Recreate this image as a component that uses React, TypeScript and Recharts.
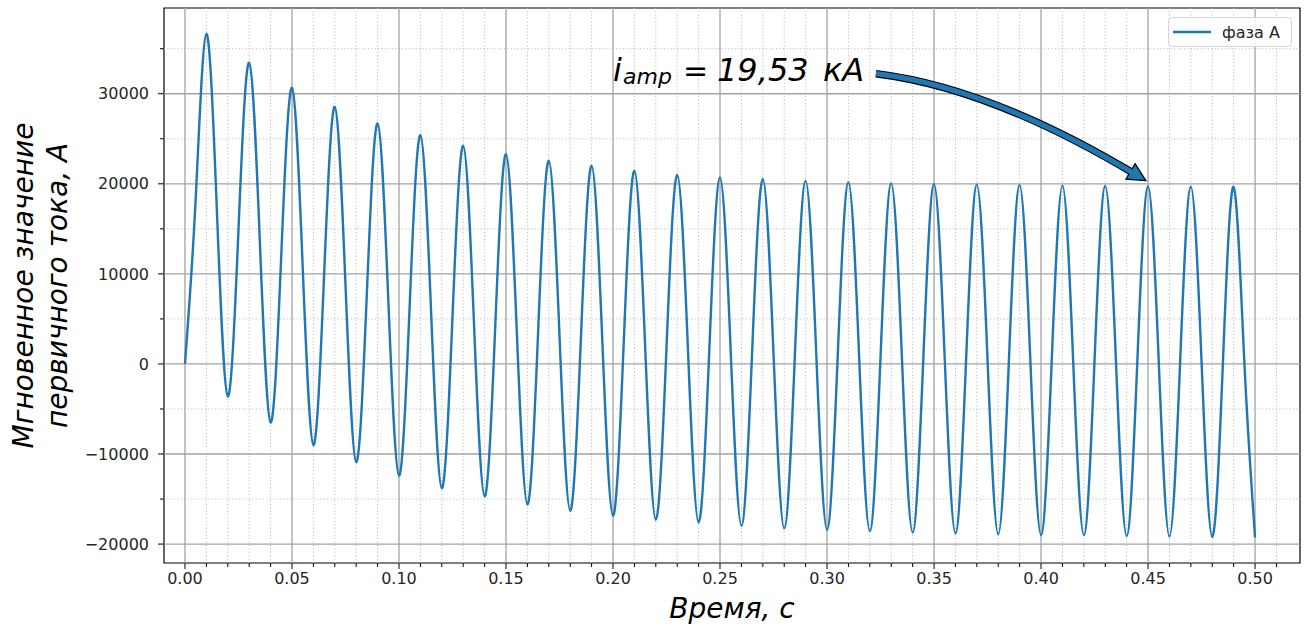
import { LineChart, Line, XAxis, YAxis, ReferenceLine, ReferenceDot, ReferenceArea, Legend, Label } from 'recharts';

// time, s
const TIME = [
  0, 0.005, 0.01, 0.015, 0.02, 0.025, 0.03, 0.035, 0.04, 0.045,
  0.05, 0.055, 0.06, 0.065, 0.07, 0.075, 0.08, 0.085, 0.09, 0.095,
  0.1, 0.105, 0.11, 0.115, 0.12, 0.125, 0.13, 0.135, 0.14, 0.145,
  0.15, 0.155, 0.16, 0.165, 0.17, 0.175, 0.18, 0.185, 0.19, 0.195,
  0.2, 0.205, 0.21, 0.215, 0.22, 0.225, 0.23, 0.235, 0.24, 0.245,
  0.25, 0.255, 0.26, 0.265, 0.27, 0.275, 0.28, 0.285, 0.29, 0.295,
  0.3, 0.305, 0.31, 0.315, 0.32, 0.325, 0.33, 0.335, 0.34, 0.345,
  0.35, 0.355, 0.36, 0.365, 0.37, 0.375, 0.38, 0.385, 0.39, 0.395,
  0.4, 0.405, 0.41, 0.415, 0.42, 0.425, 0.43, 0.435, 0.44, 0.445,
  0.45, 0.455, 0.46, 0.465, 0.47, 0.475, 0.48, 0.485, 0.49, 0.495,
  0.5,
];

// instantaneous primary current, A (phase A)
const CURRENT = [
  0, 18300, 36650, 16500, -3600, 14900, 33450, 13500, -6500, 12100,
  30650, 10800, -9000, 9800, 28550, 8800, -10900, 7900, 26700, 7150,
  -12400, 6500, 25400, 5800, -13800, 5200, 24220, 4750, -14700, 4300,
  23300, 3850, -15600, 3500, 22560, 3150, -16300, 2850, 22000, 2600,
  -16850, 2300, 21450, 2050, -17300, 1850, 21000, 1700, -17600, 1550,
  20700, 1400, -17950, 1300, 20550, 1150, -18250, 1050, 20330, 950,
  -18400, 900, 20180, 800, -18550, 750, 20050, 680, -18700, 630,
  19950, 570, -18800, 540, 19900, 500, -18900, 480, 19850, 430,
  -19000, 400, 19800, 400, -19000, 370, 19750, 330, -19100, 300,
  19700, 270, -19150, 260, 19680, 240, -19200, 230, 19650, 200,
  -19250,
];

const X_MAJOR = [0, 0.05, 0.1, 0.15, 0.2, 0.25, 0.3, 0.35, 0.4, 0.45, 0.5];
const X_MINOR = [
  0.01, 0.02, 0.03, 0.04, 0.06, 0.07, 0.08, 0.09, 0.11, 0.12, 0.13, 0.14,
  0.16, 0.17, 0.18, 0.19, 0.21, 0.22, 0.23, 0.24, 0.26, 0.27, 0.28, 0.29,
  0.31, 0.32, 0.33, 0.34, 0.36, 0.37, 0.38, 0.39, 0.41, 0.42, 0.43, 0.44,
  0.46, 0.47, 0.48, 0.49, 0.51,
];
const Y_MAJOR = [-20000, -10000, 0, 10000, 20000, 30000];
const Y_MINOR = [-15000, -5000, 5000, 15000, 25000, 35000];

const SERIES_NAME = 'фаза A';
const X_TITLE = 'Время, с';
const Y_TITLE = ['Мгновенное значение', 'первичного тока, А'];
const ANNOT_SUB = 'amp';
const ANNOT_VALUE = '19,53';
const ANNOT_UNIT = 'кА';
const ANNOT_TEXT_AT = { x: 0.2, y: 31370 };
const ANNOT_TIP_AT = { x: 0.449, y: 20350 };

const X_DOMAIN = [-0.0098, 0.521];
const Y_DOMAIN = [-22100, 39520];

const BLUE = '#1f77b4';
const INK = '#262626';

const data = TIME.map((t, k) => ({ t, ia: CURRENT[k] }));

const fmtY = (v: number) => String(v).replace('-', '\u2212');

const MinorTickX = (p: any) => (
  <line x1={p.cx} y1={p.cy} x2={p.cx} y2={p.cy + 4} stroke="#000" strokeWidth={1} />
);
const MinorTickY = (p: any) => (
  <line x1={p.cx} y1={p.cy} x2={p.cx - 4} y2={p.cy} stroke="#000" strokeWidth={1} />
);

const AnnotText = (p: any) => (
  <text x={p.cx} y={p.cy} fontSize={32} fontStyle="italic" fill="#000">
    <tspan>i</tspan>
    <tspan x={p.cx + 10} dy={3} fontSize={22}>{ANNOT_SUB}</tspan>
    <tspan x={p.cx + 70} dy={-3} fontStyle="normal" fontSize={30}>=</tspan>
    <tspan x={p.cx + 104}>{ANNOT_VALUE}</tspan>
    <tspan x={p.cx + 210}>{ANNOT_UNIT}</tspan>
  </text>
);

const Arrow = (p: any) => {
  const tx = p.cx;
  const ty = p.cy;
  const sx = tx - 270;
  const sy = ty - 107;
  const qx = tx - 155;
  const qy = ty - 93;
  const len = Math.hypot(tx - qx, ty - qy);
  const ux = (tx - qx) / len;
  const uy = (ty - qy) / len;
  const bx = tx - 18 * ux;
  const by = ty - 18 * uy;
  const nx = -uy * 9;
  const ny = ux * 9;
  const ex = tx - 12 * ux;
  const ey = ty - 12 * uy;
  const shaft = `M${sx},${sy} Q${qx},${qy} ${ex},${ey}`;
  const head = `M${tx},${ty} L${bx + nx},${by + ny} L${bx - nx},${by - ny} Z`;
  return (
    <g>
      <path d={shaft} fill="none" stroke="#000" strokeWidth={7.5} />
      <path d={head} fill={BLUE} stroke="#000" strokeWidth={1.2} strokeLinejoin="miter" />
      <path d={shaft} fill="none" stroke={BLUE} strokeWidth={5.3} />
    </g>
  );
};

const XTitle = (p: any) => {
  const { x, y, width } = p.viewBox;
  return (
    <text x={x + width / 2} y={y + 55} textAnchor="middle" fontSize={28} fontStyle="italic" fill="#000">
      {X_TITLE}
    </text>
  );
};

const YTitle = (p: any) => {
  const { y, height } = p.viewBox;
  const cy = y + height / 2;
  return (
    <g fontSize={28} fontStyle="italic" fill="#000">
      <text x={33} y={cy} textAnchor="middle" transform={`rotate(-90, 33, ${cy})`}>{Y_TITLE[0]}</text>
      <text x={67} y={cy} textAnchor="middle" transform={`rotate(-90, 67, ${cy})`}>{Y_TITLE[1]}</text>
    </g>
  );
};

const LegendBox = () => (
  <div
    style={{
      boxSizing: 'border-box',
      width: 124,
      height: 30,
      border: '1px solid #d4d4d4',
      borderRadius: 4,
      background: 'rgba(255,255,255,0.85)',
      display: 'flex',
      alignItems: 'center',
      fontSize: 16,
      color: INK,
    }}
  >
    <svg width={44} height={6} style={{ marginLeft: 3 }}>
      <line x1={1} y1={3} x2={39} y2={3} stroke={BLUE} strokeWidth={2.4} />
    </svg>
    <span style={{ marginLeft: 6 }}>{SERIES_NAME}</span>
  </div>
);

export default function App() {
  return (
    <div style={{ position: 'absolute', left: 0, top: 0, fontFamily: '"DejaVu Sans", sans-serif', background: '#fff' }}>
      <LineChart width={1307} height={630} data={data} margin={{ top: 8, right: 7, bottom: 0, left: 0 }}>
        {X_MINOR.map((v) => (
          <ReferenceLine key={`xm${v}`} x={v} stroke="#bdbdbd" strokeWidth={1} strokeDasharray="1.2 2.2" />
        ))}
        {Y_MINOR.map((v) => (
          <ReferenceLine key={`ym${v}`} y={v} stroke="#bdbdbd" strokeWidth={1} strokeDasharray="1.2 2.2" />
        ))}
        {X_MAJOR.map((v) => (
          <ReferenceLine key={`xM${v}`} x={v} stroke="#a3a3a3" strokeWidth={1.3} />
        ))}
        {Y_MAJOR.map((v) => (
          <ReferenceLine key={`yM${v}`} y={v} stroke="#a3a3a3" strokeWidth={1.3} />
        ))}
        <XAxis
          dataKey="t"
          type="number"
          domain={X_DOMAIN}
          allowDataOverflow
          ticks={X_MAJOR}
          tickFormatter={(v: number) => v.toFixed(2)}
          axisLine={false}
          tickLine={{ stroke: '#000' }}
          tickSize={6}
          tickMargin={4}
          tick={{ fontSize: 16, fill: INK }}
          height={67}
        >
          <Label content={XTitle} />
        </XAxis>
        <YAxis
          type="number"
          domain={Y_DOMAIN}
          allowDataOverflow
          ticks={Y_MAJOR}
          tickFormatter={fmtY}
          axisLine={false}
          tickLine={{ stroke: '#000' }}
          tickSize={6}
          tickMargin={9}
          tick={{ fontSize: 16, fill: INK }}
          width={164}
        >
          <Label content={YTitle} />
        </YAxis>
        <Line
          type="natural"
          dataKey="ia"
          name={SERIES_NAME}
          stroke={BLUE}
          strokeWidth={2.4}
          dot={false}
          isAnimationActive={false}
        />
        {X_MINOR.map((v) => (
          <ReferenceDot key={`xt${v}`} x={v} y={Y_DOMAIN[0]} r={0} ifOverflow="visible" shape={MinorTickX} />
        ))}
        {Y_MINOR.map((v) => (
          <ReferenceDot key={`yt${v}`} x={X_DOMAIN[0]} y={v} r={0} ifOverflow="visible" shape={MinorTickY} />
        ))}
        <ReferenceDot x={ANNOT_TIP_AT.x} y={ANNOT_TIP_AT.y} r={0} ifOverflow="visible" shape={Arrow} />
        <ReferenceDot x={ANNOT_TEXT_AT.x} y={ANNOT_TEXT_AT.y} r={0} ifOverflow="visible" shape={AnnotText} />
        <ReferenceArea
          x1={X_DOMAIN[0]}
          x2={X_DOMAIN[1]}
          y1={Y_DOMAIN[0]}
          y2={Y_DOMAIN[1]}
          fill="none"
          fillOpacity={0}
          stroke="#000"
          strokeWidth={1.2}
          ifOverflow="visible"
        />
        <Legend
          layout="vertical"
          align="center"
          verticalAlign="middle"
          wrapperStyle={{ left: 1168, top: 17, width: 124, height: 30 }}
          content={LegendBox}
        />
      </LineChart>
    </div>
  );
}
